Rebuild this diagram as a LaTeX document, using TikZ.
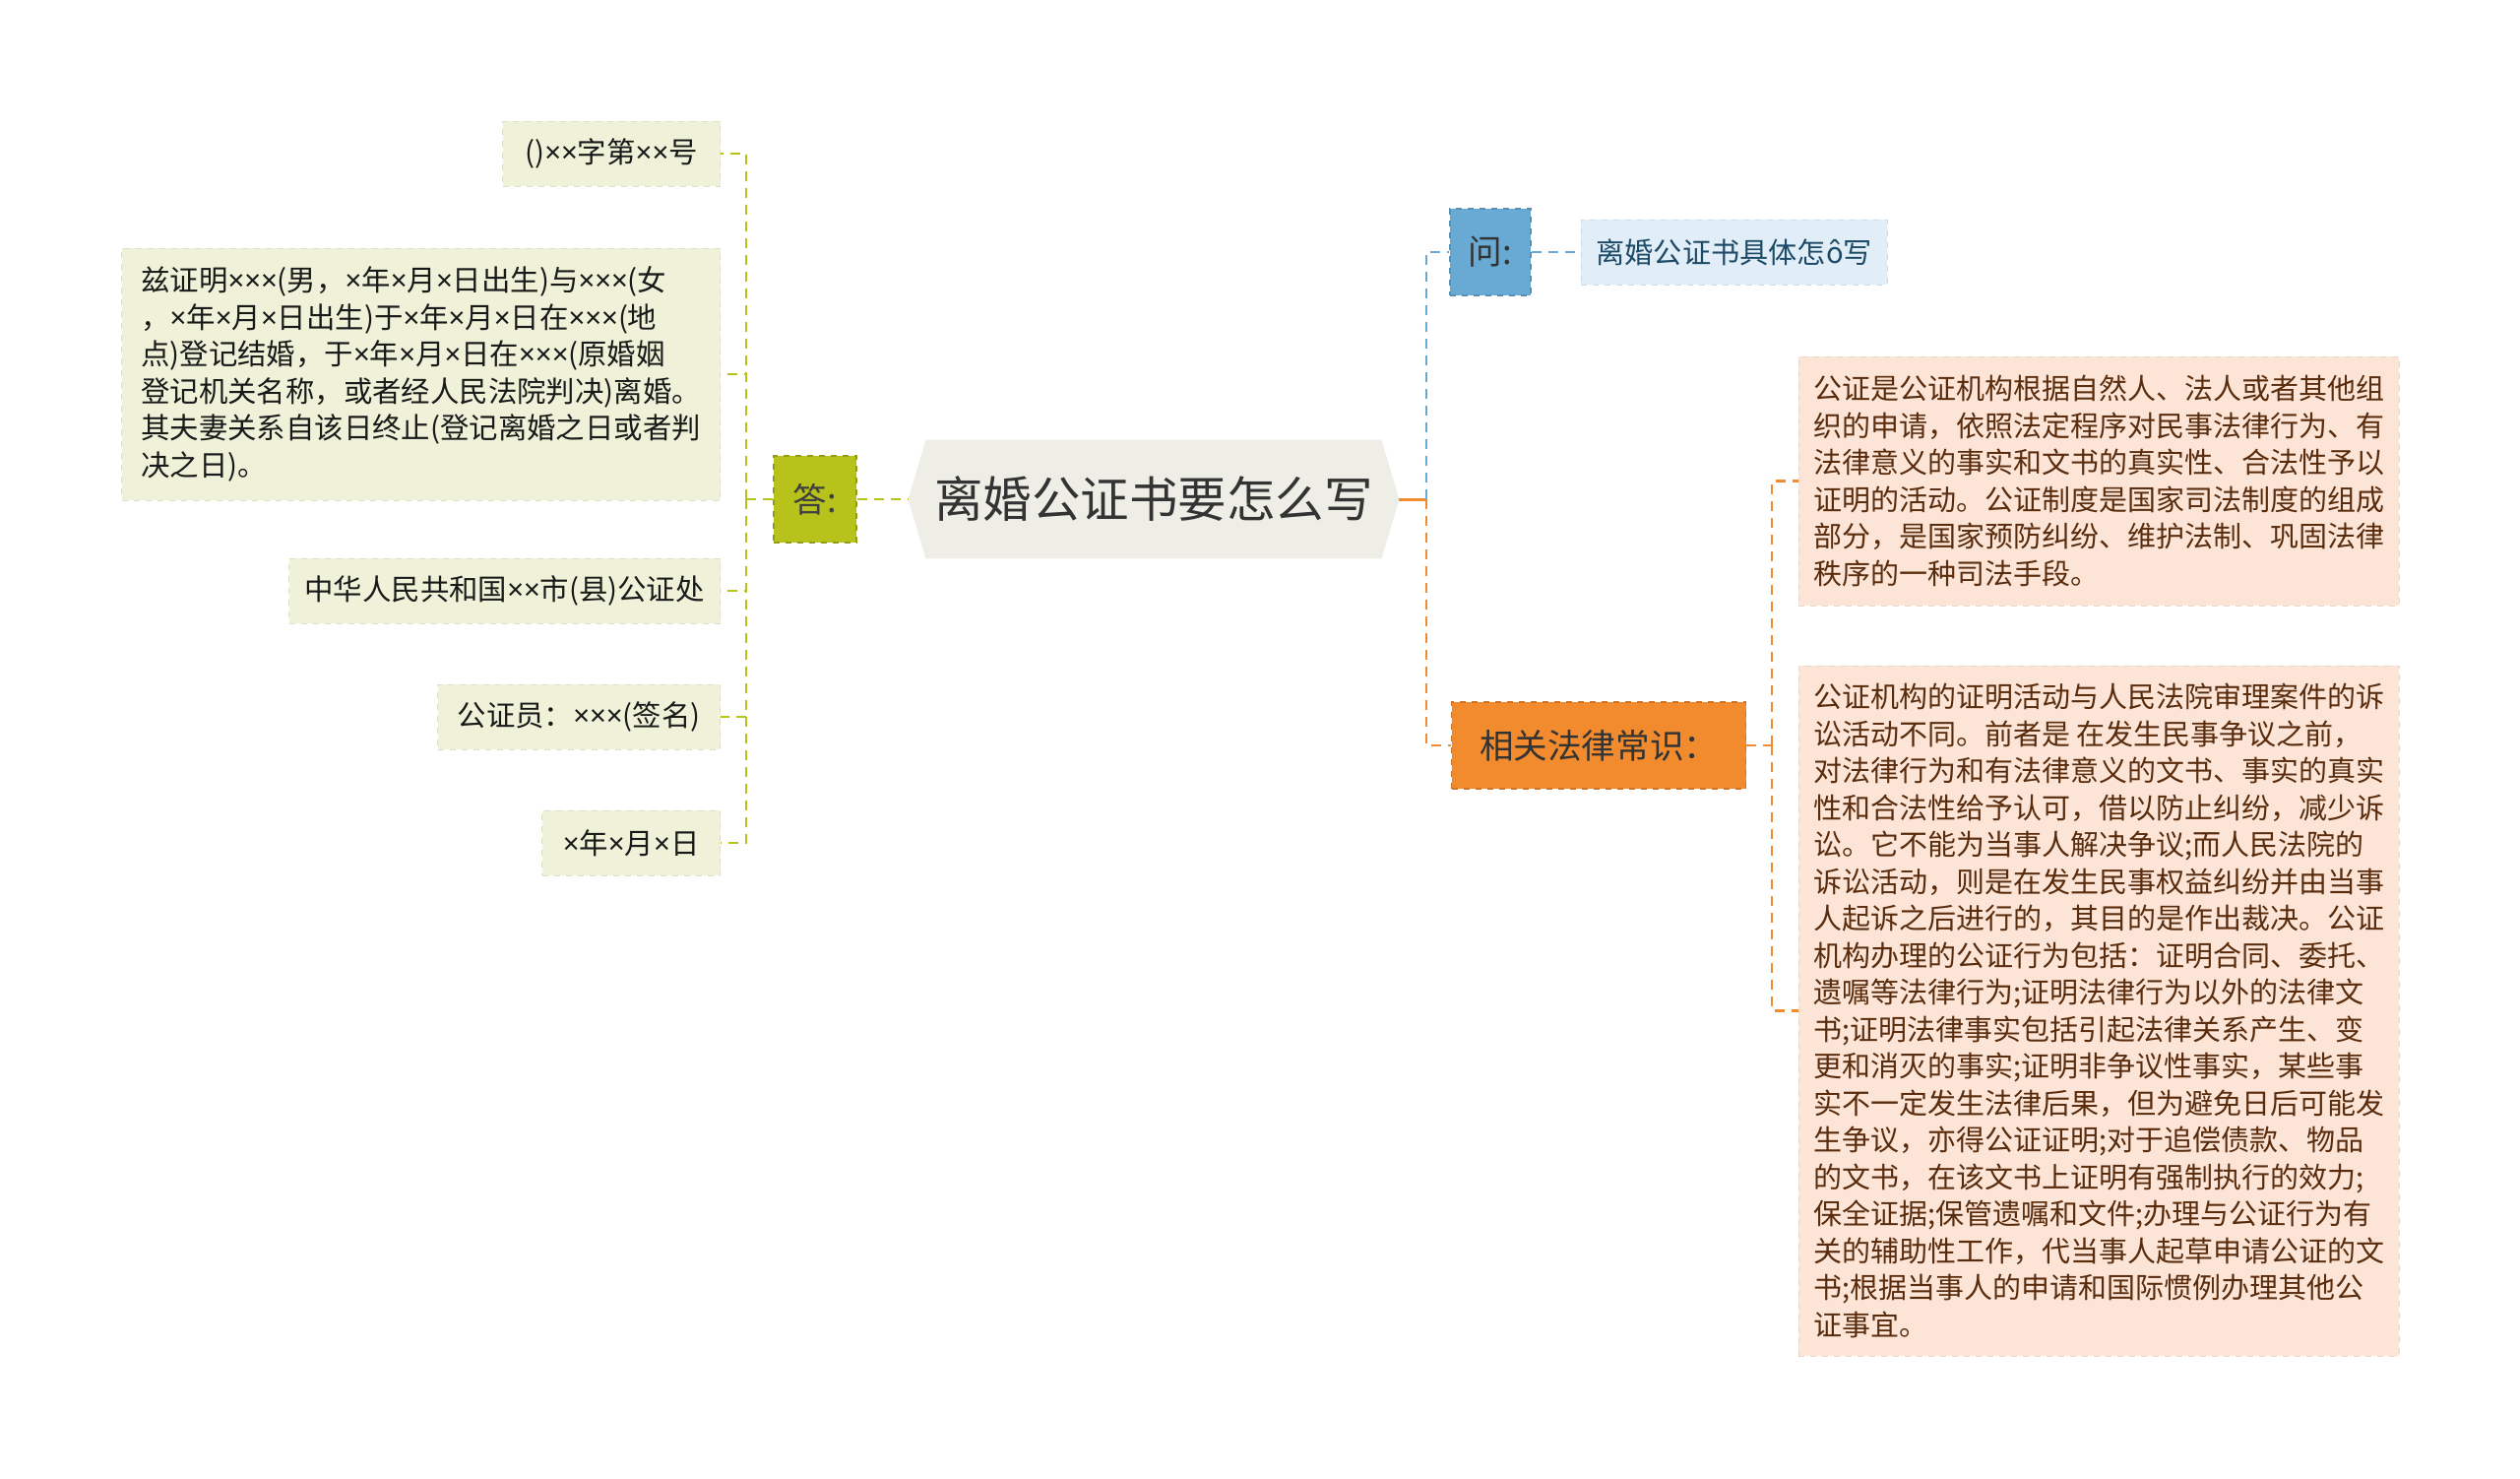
\documentclass[tikz,border=0pt]{standalone}
\usepackage{fontspec}
\newfontfamily\cjk{Noto Sans CJK SC}
\newfontfamily\latin{Noto Sans}
\usepackage{xcolor}
\usepackage{tikz}
\usetikzlibrary{positioning, backgrounds}

\definecolor{rootfill}{HTML}{EEEEE7}
\definecolor{olivedark}{HTML}{B7C31B}
\definecolor{olivelight}{HTML}{EFF2D8}
\definecolor{skyblue}{HTML}{68AAD3}
\definecolor{skylight}{HTML}{E1EEF8}
\definecolor{skytext}{HTML}{1D4A66}
\definecolor{lawor}{HTML}{F28A2E}
\definecolor{peach}{HTML}{FCE5D6}
\definecolor{browntext}{HTML}{5A2C0E}

% narrow multiplication sign
\newcommand\tms{{\latin ×}}

\begin{document}
\begin{tikzpicture}[
    x=0.5pt, y=-0.5pt,
    every node/.style={
        font=\cjk,
        align=left,
        inner xsep=7.5pt
    },
    root/.style={minimum width=249pt, minimum height=60pt, text=black!80,
        font=\cjk\fontsize{24.75pt}{28pt}\selectfont},
    topic/.style={draw, dashed, line width=0.6pt, minimum height=44pt, inner xsep=5pt,
        font=\cjk\fontsize{17.3pt}{20pt}\selectfont},
    leaf/.style={fill=olivelight, draw=olivelight!92!black, dashed, minimum height=33pt,
        text=black!90, font=\cjk\fontsize{14.7pt}{18.75pt}\selectfont},
    para/.style={fill=peach, draw=peach!93!black, dashed, minimum width=304pt,
        text=browntext, font=\cjk\fontsize{14.5pt}{18.75pt}\selectfont},
    lline/.style={olivedark, line width=1.1pt, dash pattern=on 5pt off 3.5pt},
    qline/.style={skyblue, line width=1.1pt, dash pattern=on 5pt off 3.5pt},
    oline/.style={lawor, line width=1.1pt, dash pattern=on 5pt off 3.5pt}
]
\useasboundingbox (0,0) rectangle (2560,1501);

% centre
\node[root] (root) at (1172,507) {离婚公证书要怎么写};
\begin{scope}[on background layer]
\fill[rootfill] (root.west) -- ([xshift=9pt]root.north west) -- ([xshift=-9pt]root.north east)
    -- (root.east) -- ([xshift=-9pt]root.south east) -- ([xshift=9pt]root.south west) -- cycle;
\end{scope}

% left branch
\node[topic, fill=olivedark, draw=olivedark!80!black, minimum width=42pt, text=black!75] (ans) at (828,507) {答:};
\node[leaf, anchor=east, minimum width=110.5pt] (l1) at (732,156) {()\tms\tms 字第\tms\tms 号};
\node[leaf, anchor=east, minimum width=304pt, minimum height=128pt] (l2) at (732,380) {兹证明\tms\tms\tms(男，\tms 年\tms 月\tms 日出生)与\tms\tms\tms(女\\
，\tms 年\tms 月\tms 日出生)于\tms 年\tms 月\tms 日在\tms\tms\tms(地\\
点)登记结婚，于\tms 年\tms 月\tms 日在\tms\tms\tms(原婚姻\\
登记机关名称，或者经人民法院判决)离婚。\\
其夫妻关系自该日终止(登记离婚之日或者判\\
决之日)。};
\node[leaf, anchor=east, minimum width=219pt] (l3) at (732,600) {中华人民共和国\tms\tms 市(县)公证处};
\node[leaf, anchor=east, minimum width=143.5pt] (l4) at (732,728) {公证员：\tms\tms\tms(签名)};
\node[leaf, anchor=east, minimum width=90.5pt] (l5) at (732,856) {\tms 年\tms 月\tms 日};

\coordinate (lj) at (758,507);
\draw[lline] (ans.east) -- (root.west);
\draw[lline] (ans.west) -- (lj);
\foreach \n in {l1,l2,l3,l4,l5}
    \draw[lline] (lj) |- (\n.east);

% right branch
\node[topic, fill=skyblue, draw=skyblue!85!black, minimum width=41pt, text=black!80] (ask) at (1514,256) {问:};
\node[leaf, fill=skylight, draw=skylight!92!black, text=skytext, anchor=west, minimum width=150pt,
    font=\cjk\fontsize{14.6pt}{17pt}\selectfont] (askleaf) at (1606,256) {离婚公证书具体怎ô写};
\node[topic, fill=lawor, draw=lawor!85!black, minimum width=149.5pt, anchor=west, text=black!80] (law) at (1474,757) {相关法律常识：};

\node[para, anchor=west, minimum height=126.5pt] (p1) at (1827,488.5) {公证是公证机构根据自然人、法人或者其他组\\
织的申请，依照法定程序对民事法律行为、有\\
法律意义的事实和文书的真实性、合法性予以\\
证明的活动。公证制度是国家司法制度的组成\\
部分，是国家预防纠纷、维护法制、巩固法律\\
秩序的一种司法手段。};
\node[para, anchor=west, minimum height=350.5pt] (p2) at (1827,1026.5) {公证机构的证明活动与人民法院审理案件的诉\\
讼活动不同。前者是 在发生民事争议之前，\\
对法律行为和有法律意义的文书、事实的真实\\
性和合法性给予认可，借以防止纠纷，减少诉\\
讼。它不能为当事人解决争议;而人民法院的\\
诉讼活动，则是在发生民事权益纠纷并由当事\\
人起诉之后进行的，其目的是作出裁决。公证\\
机构办理的公证行为包括：证明合同、委托、\\
遗嘱等法律行为;证明法律行为以外的法律文\\
书;证明法律事实包括引起法律关系产生、变\\
更和消灭的事实;证明非争议性事实，某些事\\
实不一定发生法律后果，但为避免日后可能发\\
生争议，亦得公证证明;对于追偿债款、物品\\
的文书，在该文书上证明有强制执行的效力;\\
保全证据;保管遗嘱和文件;办理与公证行为有\\
关的辅助性工作，代当事人起草申请公证的文\\
书;根据当事人的申请和国际惯例办理其他公\\
证事宜。};

\coordinate (rj) at (1449,507);
\coordinate (pj) at (1800,757);
\draw[lawor, line width=1.5pt] (root.east) -- (rj);
\draw[qline] (rj) |- (ask.west);
\draw[oline] (rj) |- (law.west);
\draw[qline] (ask.east) -- (askleaf.west);
\draw[oline] (law.east) -- (pj);
\draw[oline] (pj) |- (p1.west);
\draw[oline] (pj) |- (p2.west);

\end{tikzpicture}
\end{document}
